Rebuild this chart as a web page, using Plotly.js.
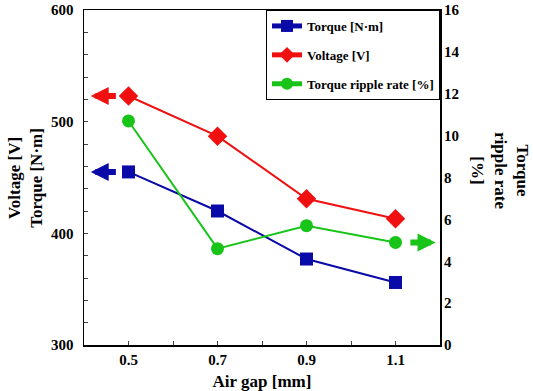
<!DOCTYPE html>
<html>
<head>
<meta charset="utf-8">
<script src="https://cdn.plot.ly/plotly-3.0.1.min.js"></script>
<style>html,body{margin:0;padding:0;background:#fff;}#chart{width:533px;height:391px;}</style>
</head>
<body>
<div id="chart"></div>
<script>
const airGap = [0.5, 0.7, 0.9, 1.1];
const torque = [455, 420, 377, 356];
const voltage = [523, 487, 431, 413];
const ripple = [10.7, 4.6, 5.7, 4.9];
const xTickVals = [0.4, 0.5, 0.6, 0.7, 0.8, 0.9, 1.0, 1.1, 1.2];
const xTickText = ['', '0.5', '', '0.7', '', '0.9', '', '1.1', ''];

const FONT = 'Times New Roman';

const traces = [
  {x: airGap, y: torque, name: 'Torque [N·m]', type: 'scatter', mode: 'lines+markers',
   line: {color: '#0a0aa8', width: 2}, marker: {symbol: 'square', size: 13, color: '#0a0aa8'},
   legendgroup: 'a', yaxis: 'y'},
  {x: airGap, y: voltage, name: 'Voltage [V]', type: 'scatter', mode: 'lines+markers',
   line: {color: '#f01010', width: 2}, marker: {symbol: 'diamond', size: 15, color: '#f01010'},
   legendgroup: 'b', yaxis: 'y'},
  {x: airGap, y: ripple, name: 'Torque ripple rate [%]', type: 'scatter', mode: 'lines+markers',
   line: {color: '#18c418', width: 2}, marker: {symbol: 'circle', size: 13, color: '#18c418'},
   legendgroup: 'c', yaxis: 'y2'}
];

const layout = {
  width: 533, height: 391,
  margin: {l: 83.5, r: 93, t: 10, b: 46},
  paper_bgcolor: '#fff', plot_bgcolor: '#fff',
  font: {family: FONT, color: '#000', size: 14, weight: 'bold'},
  showlegend: true,
  legend: {x: 1, xanchor: 'right', y: 1, yanchor: 'top', bordercolor: '#000', borderwidth: 1,
           bgcolor: '#fff', font: {family: FONT, size: 13, weight: 'bold'},
           itemsizing: 'constant', tracegroupgap: 9, itemwidth: 30},
  xaxis: {range: [0.4, 1.2], tickvals: xTickVals, ticktext: xTickText, ticks: 'inside', ticklen: 4,
          showgrid: false, zeroline: false, showline: true, linecolor: '#000', linewidth: 1.5, mirror: true,
          tickfont: {family: FONT, size: 15, weight: 'bold'},
          title: {text: 'Air gap [mm]', font: {family: FONT, size: 17, weight: 'bold'}, standoff: 8}},
  yaxis: {range: [300, 600], dtick: 100, ticks: 'inside', ticklen: 4, ticklabelstandoff: 6,
          minor: {dtick: 20, ticks: 'inside', ticklen: 4, showgrid: false},
          showgrid: false, zeroline: false, showline: true, linecolor: '#000', linewidth: 1.5, mirror: true,
          tickfont: {family: FONT, size: 15, weight: 'bold'}},
  yaxis2: {range: [0, 16], dtick: 2, overlaying: 'y', side: 'right', ticks: '', ticklabelstandoff: 3,
           showgrid: false, zeroline: false, showline: false,
           tickfont: {family: FONT, size: 15, weight: 'bold'}},
  annotations: [
    {xref: 'x', yref: 'y', axref: 'x', ayref: 'y', x: 0.415, y: 523, ax: 0.475, ay: 523,
     text: '', showarrow: true, arrowhead: 2, arrowwidth: 6, arrowsize: 0.6, arrowcolor: '#f01010'},
    {xref: 'x', yref: 'y', axref: 'x', ayref: 'y', x: 0.415, y: 455, ax: 0.475, ay: 455,
     text: '', showarrow: true, arrowhead: 2, arrowwidth: 6, arrowsize: 0.6, arrowcolor: '#0a0aa8'},
    {xref: 'x', yref: 'y2', axref: 'x', ayref: 'y2', x: 1.19, y: 4.9, ax: 1.13, ay: 4.9,
     text: '', showarrow: true, arrowhead: 2, arrowwidth: 6, arrowsize: 0.6, arrowcolor: '#18c418'},
    {xref: 'paper', yref: 'paper', x: -0.165, y: 0.5, xanchor: 'center', yanchor: 'middle',
     text: 'Voltage [V]<br>Torque [N·m]', textangle: -90, showarrow: false,
     font: {family: FONT, size: 17, weight: 'bold'}},
    {xref: 'paper', yref: 'paper', x: 1.168, y: 0.52, xanchor: 'center', yanchor: 'middle',
     text: 'Torque<br>ripple rate<br>[%]', textangle: 90, showarrow: false,
     font: {family: FONT, size: 17, weight: 'bold'}}
  ]
};

Plotly.newPlot('chart', traces, layout, {displayModeBar: false, staticPlot: true});
</script>
</body>
</html>
